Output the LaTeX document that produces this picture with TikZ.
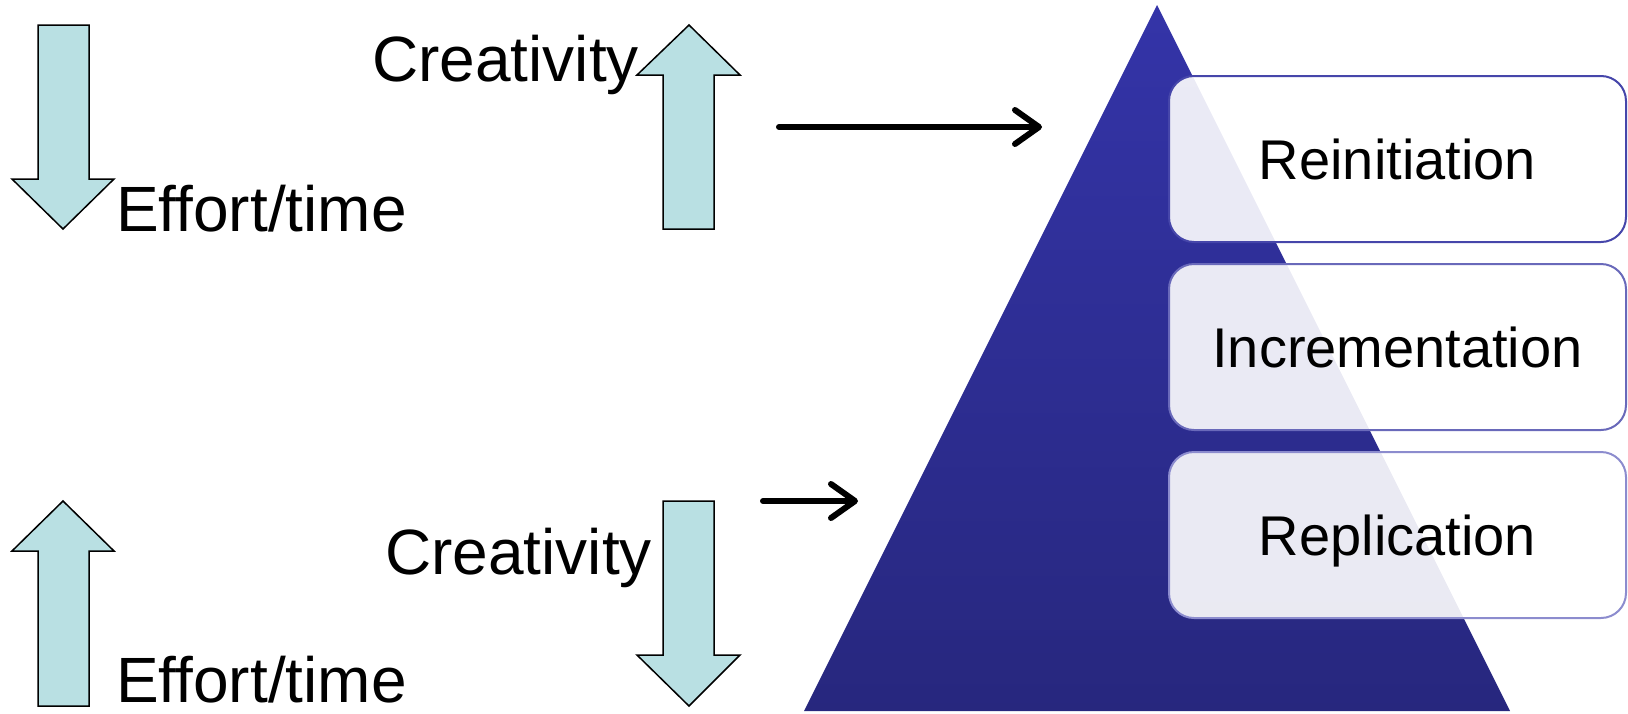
\documentclass[tikz,border=0pt]{standalone}
\usepackage{fontspec}
\setmainfont[Ligatures=NoCommon]{Liberation Sans}
\usetikzlibrary{arrows.meta}
\definecolor{arrowfill}{RGB}{185,224,227}
\definecolor{pyrtop}{RGB}{52,52,168}
\definecolor{pyrbot}{RGB}{39,39,126}
\definecolor{bordA}{RGB}{70,70,170}
\definecolor{bordB}{RGB}{105,105,186}
\definecolor{bordC}{RGB}{140,140,206}
\tikzset{
  blockarrow/.style={draw=black, line width=1.5pt, fill=arrowfill, line join=miter},
  bigtext/.style={inner sep=0pt, anchor=base west, font=\fontsize{64}{72}\selectfont},
  levelbox/.style={rounded corners=25pt, line width=2pt, fill=white, fill opacity=0.9,
    text opacity=1, minimum width=457pt, minimum height=166pt, inner sep=0pt,
    text height=40pt, text depth=0pt, font=\fontsize{56}{63}\selectfont},
  connector/.style={line width=6pt, line cap=round,
    -{Straight Barb[length=24pt, width=34pt, line cap=round, line join=round]}}
}
\begin{document}
\begin{tikzpicture}[x=1pt, y=-1pt]
\useasboundingbox (0,0) rectangle (1628,713);
% block arrows
\draw[blockarrow] (38,25) -- (89,25) -- (89,179) -- (114,179) -- (63,229) -- (12,179) -- (38,179) -- cycle;
\draw[blockarrow] (663,229) -- (663,75) -- (637,75) -- (689,25) -- (740,75) -- (714,75) -- (714,229) -- cycle;
\draw[blockarrow] (38,706) -- (38,551) -- (12,551) -- (63,501) -- (114,551) -- (89,551) -- (89,706) -- cycle;
\draw[blockarrow] (663,501) -- (714,501) -- (714,655) -- (740,655) -- (689,706) -- (637,655) -- (663,655) -- cycle;
% labels
\node[bigtext] (eff1) at (116,231) {Effort/time};
\node[bigtext] (cre1) at (372,81) {Creativity};
\node[bigtext] (cre2) at (385,574) {Creativity};
\node[bigtext] (eff2) at (116,702) {Effort/time};
% pyramid
\shade[top color=pyrtop, bottom color=pyrbot] (1157,5) -- (1510,711) -- (804,711) -- cycle;
% level boxes
\node[levelbox, draw=bordA] (rei) at (1397.5,159) {Reinitiation};
\node[levelbox, draw=bordB] (inc) at (1397.5,347) {Incrementation};
\node[levelbox, draw=bordC] (rep) at (1397.5,535) {Replication};
% connectors
\coordinate (h1s) at (779,127);
\coordinate (h1e) at (1042,127);
\coordinate (h2s) at (763,501);
\coordinate (h2e) at (858,501);
\draw[connector] (h1s) -- (h1e);
\draw[connector] (h2s) -- (h2e);
\end{tikzpicture}
\end{document}
